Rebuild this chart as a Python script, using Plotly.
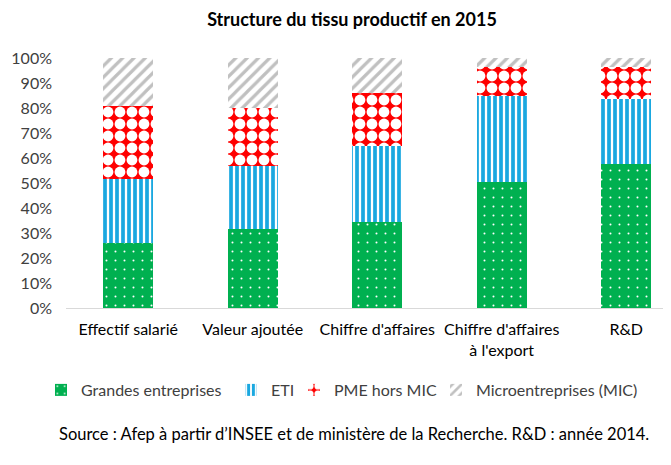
import plotly.graph_objects as go

categories = ["Effectif salarié", "Valeur ajoutée", "Chiffre d'affaires",
              "Chiffre d'affaires<br>à l'export", "R&D"]
grandes = [26, 31.5, 34.5, 50.5, 57.5]
eti = [25.5, 25.5, 30.5, 34.5, 26]
pme = [29.5, 23, 21, 11.5, 13]
mic = [19, 20, 14, 3.5, 3.5]
tick_vals = [0, 10, 20, 30, 40, 50, 60, 70, 80, 90, 100]
tick_text = [f"{v}%" for v in tick_vals]

FONT = "Lato"
W, H = 663, 457  # page body has an 8px margin
L, T, B = 58, 50, 157
PW, PH = W - L, H - T - B

fig = go.Figure()
fig.add_bar(name="Grandes entreprises", x=categories, y=grandes, legend="legend",
            marker=dict(color="#00B050", line=dict(width=0),
                        pattern=dict(shape=".", fgcolor="#FFFFFF", bgcolor="#00B050",
                                     fgopacity=1, size=9, solidity=0.04, fillmode="overlay")))
fig.add_bar(name="ETI", x=categories, y=eti, legend="legend2",
            marker=dict(color="#FFFFFF", line=dict(width=0),
                        pattern=dict(shape="|", fgcolor="#1AA8E0", bgcolor="#FFFFFF",
                                     fgopacity=1, size=6, solidity=0.62, fillmode="overlay")))
fig.add_bar(name="PME hors MIC", x=categories, y=pme, legend="legend3",
            marker=dict(color="#FF0000", line=dict(width=0),
                        pattern=dict(shape=".", fgcolor="#FFFFFF", bgcolor="#FF0000",
                                     fgopacity=1, size=12, solidity=0.64, fillmode="overlay")))
fig.add_bar(name="Microentreprises (MIC)", x=categories, y=mic, legend="legend4",
            marker=dict(color="#FFFFFF", line=dict(width=0),
                        pattern=dict(shape="/", fgcolor="#C0C0C0", bgcolor="#FFFFFF",
                                     fgopacity=1, size=8, solidity=0.4, fillmode="overlay")))

legend_common = dict(orientation="h", xref="container", xanchor="left",
                     yref="container", y=1 - 382/H, yanchor="middle",
                     font=dict(family=FONT, size=16, color="#404040"),
                     itemwidth=30, bgcolor="rgba(0,0,0,0)")
# text starts (page px): 82, 272, 335, 477 -> legend x = text - 49
legend_x = [33, 223, 286, 428]

fig.update_layout(
    barmode="stack",
    bargap=0.6,
    width=W, height=H,
    margin=dict(l=L, r=0, t=T, b=B),
    paper_bgcolor="#FFFFFF",
    plot_bgcolor="#FFFFFF",
    font=dict(family=FONT, size=16, color="#404040"),
    title=dict(text="<b>Structure du tissu productif en 2015</b>",
               x=344/W, xanchor="center", xref="container",
               y=1 - 12/H, yanchor="middle", yref="container",
               font=dict(family=FONT, size=18, color="#000000")),
    xaxis=dict(range=[-0.5, 4.36], showgrid=False, showline=True,
               linecolor="#D9D9D9", linewidth=1, ticks="",
               ticklabelstandoff=7,
               tickfont=dict(family=FONT, size=16, color="#000000"),
               fixedrange=True),
    yaxis=dict(range=[0, 100], tickvals=tick_vals, ticktext=tick_text,
               showgrid=False, showline=False, zeroline=False, ticks="",
               ticklabelstandoff=13,
               tickfont=dict(family=FONT, size=16, color="#404040"),
               fixedrange=True),
    legend=dict(legend_common, x=legend_x[0]/W),
    legend2=dict(legend_common, x=legend_x[1]/W),
    legend3=dict(legend_common, x=legend_x[2]/W),
    legend4=dict(legend_common, x=legend_x[3]/W),
    showlegend=True,
    annotations=[dict(text="Source : Afep à partir d’INSEE et de ministère de la Recherche. R&D : année 2014.",
                      xref="paper", yref="paper", x=(346 - L)/PW, y=-(426 - (T + PH))/PH,
                      xanchor="center", yanchor="middle", showarrow=False,
                      font=dict(family=FONT, size=16.5, color="#000000"))],
)

fig.write_html("out.html")
